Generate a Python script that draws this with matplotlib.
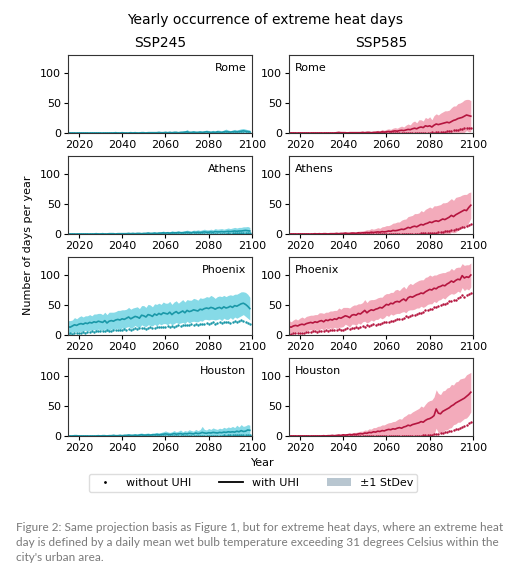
import matplotlib
matplotlib.use("Agg")
import matplotlib.pyplot as plt
import numpy as np
from matplotlib.lines import Line2D
from matplotlib.patches import Patch

years = list(range(2015, 2100))
cities = ["Rome", "Athens", "Phoenix", "Houston"]
scenarios = ["SSP245", "SSP585"]

z10 = [0] * 10
z20 = [0] * 20
z30 = [0] * 30

# ---- SSP245 ----
rome245_uhi = z20 + [
    0, 0, 0.5, 0, 0, 0.5, 0, 0, 0, 0.5,
    0, 0.5, 0, 0, 0.5, 0.5, 0, 0.5, 0.5, 0.5,
    0.5, 0.5, 1, 0.5, 0.5, 1, 0.5, 1, 0.5, 1,
    1, 0.5, 1, 1, 1.5, 2, 1, 1, 1.5, 1,
    1, 1.5, 1, 1.5, 2, 1.5, 1, 1.5, 1, 2,
    1.5, 1, 2, 2.5, 2, 1.5, 2, 2.5, 2, 2.5,
    3, 3.5, 3, 2.5, 2]
rome245_std = z20 + [
    0, 0.5, 0.5, 0, 0.5, 0.5, 0.5, 0, 0.5, 0.5,
    0.5, 0.5, 0.5, 0.5, 1, 1, 0.5, 1, 1, 1,
    1, 1.5, 1, 1.5, 1, 2, 1.5, 2, 1.5, 2,
    2, 1.5, 2, 2.5, 2, 4, 2, 2, 2.5, 2,
    2, 2.5, 2, 2.5, 3, 2.5, 2, 3, 2.5, 3,
    3, 2.5, 3, 4, 3, 2.5, 3, 3.5, 3, 3.5,
    4, 4, 3.5, 3, 3]
rome245_no = z30 + [0] * 40 + [
    0, 0, 0, 0, 0, 0, 0.5, 0, 0, 0.5,
    0.5, 0.5, 0.5, 0.5, 0.5]

athens245_uhi = z10 + [
    0, 0, 0, 0.5, 0, 0, 0.5, 0, 0, 0.5,
    0.5, 0.5, 0, 0.5, 0.5, 0.5, 0.5, 0.5, 1, 0.5,
    1, 0.5, 1, 1, 0.5, 1, 1, 1.5, 1, 1,
    1.5, 1, 1.5, 1.5, 2, 1.5, 2, 1.5, 2, 2,
    2, 2.5, 2, 2, 2.5, 3, 2.5, 2, 3, 2.5,
    3, 2.5, 3, 3.5, 3, 3, 3.5, 3, 4, 3.5,
    3.5, 4, 3.5, 4, 4.5, 4, 4.5, 5, 4.5, 5,
    5, 5.5, 6, 5.5, 5]
athens245_std = z10 + [
    0, 0.5, 0, 0.5, 0.5, 0, 0.5, 0.5, 0, 0.5,
    0.5, 0.5, 0.5, 1, 0.5, 1, 1, 1, 1, 1,
    1, 1, 1.5, 1, 1, 1.5, 1.5, 2, 1.5, 2,
    2, 1.5, 2, 2, 3, 2, 2.5, 2, 3.5, 2.5,
    2.5, 3, 2.5, 3, 3, 3.5, 3, 3, 3.5, 3.5,
    4, 3.5, 4, 4.5, 4, 4, 4.5, 4, 5, 4.5,
    5, 5, 4.5, 5, 5.5, 5, 5.5, 6, 5.5, 6,
    6, 6.5, 6, 7, 6]
athens245_no = z30 + [0] * 30 + [
    0, 0, 0, 0, 0.5, 0, 0, 0.5, 0, 0.5,
    0.5, 0.5, 0.5, 0.5, 1, 0.5, 1, 1, 1, 1,
    1, 1.5, 1, 1.5, 1.5]

phoenix245_uhi = [
    14, 13, 15, 17, 16, 18, 19, 18, 20, 19,
    21, 20, 22, 21, 23, 22, 21, 24, 20, 23,
    24, 23, 25, 26, 25, 27, 26, 28, 30, 27,
    29, 31, 30, 28, 33, 32, 30, 34, 33, 31,
    35, 33, 36, 34, 37, 36, 35, 38, 34, 37,
    39, 36, 38, 40, 37, 41, 39, 40, 42, 41,
    40, 43, 42, 44, 45, 44, 46, 45, 43, 45,
    46, 44, 47, 45, 46, 48, 46, 49, 48, 50,
    52, 53, 51, 48, 44]
phoenix245_std = [
    10, 11, 10, 12, 11, 12, 13, 12, 12, 13,
    13, 12, 13, 14, 13, 14, 13, 14, 14, 15,
    14, 15, 14, 15, 16, 15, 16, 15, 16, 16,
    16, 15, 17, 16, 16, 17, 16, 17, 17, 16,
    17, 18, 17, 17, 18, 17, 18, 18, 17, 18,
    18, 17, 18, 19, 18, 18, 19, 18, 19, 19,
    18, 19, 19, 18, 19, 19, 20, 19, 18, 19,
    19, 20, 19, 19, 20, 19, 20, 19, 20, 20,
    20, 19, 20, 20, 19]
phoenix245_no = [
    2, 3, 2, 3, 4, 3, 4, 5, 4, 5,
    5, 6, 5, 6, 7, 6, 7, 6, 8, 7,
    7, 8, 8, 9, 8, 9, 10, 9, 10, 9,
    10, 11, 10, 11, 12, 11, 10, 12, 13, 12,
    12, 13, 14, 13, 14, 14, 15, 13, 15, 14,
    15, 16, 15, 16, 17, 16, 17, 18, 16, 18,
    17, 18, 19, 18, 20, 19, 20, 21, 19, 20,
    21, 20, 21, 22, 21, 20, 22, 23, 22, 23,
    25, 24, 22, 20, 18]

houston245_uhi = [
    0, 0, 0, 0.5, 0.5, 0, 0, 0, 0, 0,
    0, 0, 0, 0, 0.5, 0, 0.5, 0.5, 0, 0.5,
    0.5, 1, 0.5, 0.5, 1, 0.5, 1, 1, 1.5, 1,
    1, 1.5, 1, 1.5, 2, 1.5, 1.5, 2, 1.5, 2,
    2, 2.5, 2, 2.5, 3, 3.5, 3, 2.5, 3, 4,
    3, 3.5, 4, 3, 4, 3.5, 4.5, 4, 3.5, 5,
    4, 4.5, 6, 5, 4.5, 5.5, 5, 6, 5.5, 5,
    6, 5.5, 6.5, 6, 7, 6.5, 7, 6.5, 8, 7,
    9, 7.5, 8, 10, 9.5]
houston245_std = [
    0, 0, 0, 1, 1.5, 0.5, 0, 0, 0, 0,
    0, 0, 0, 0.5, 1, 0.5, 1, 1, 0.5, 1,
    1.5, 2, 1.5, 1.5, 2, 1.5, 2, 2, 2.5, 2,
    2, 2.5, 2, 3, 3, 2.5, 3, 3, 2.5, 3,
    3, 3.5, 3, 3.5, 4, 5, 4, 3.5, 4, 5,
    4, 4.5, 6, 4, 5, 4.5, 6, 5, 4.5, 6,
    5, 6, 10, 6, 5.5, 7, 6, 7.5, 6.5, 6,
    7, 6.5, 8, 7, 8, 7.5, 9, 7.5, 10, 8,
    10, 8.5, 9, 9, 8.5]
houston245_no = z30 + [0] * 30 + [
    0, 0, 0.5, 0, 0, 0.5, 0, 0.5, 0.5, 0.5,
    0.5, 0.5, 1, 0.5, 1, 1, 1, 1, 1.5, 1,
    1.5, 1.5, 1.5, 2, 2]

# ---- SSP585 ----
rome585_uhi = z10 + [
    0, 0, 0, 0, 0, 0, 0, 0, 0, 0,
    0, 0, 0.5, 1, 0.5, 0.5, 0.5, 0, 0.5, 0.5,
    0.5, 0.5, 0.5, 0.5, 1, 0.5, 1, 1, 0.5, 1,
    1, 1.5, 1, 2, 1.5, 2, 2.5, 2, 3, 3.5,
    3, 4, 4.5, 4, 5, 6, 5.5, 7, 8, 7,
    9, 10, 9, 12, 11, 12, 10, 13, 15, 14,
    15, 16, 17, 18, 17, 19, 21, 22, 24, 25,
    26, 28, 30, 29, 28]
rome585_std = z10 + [
    0, 0, 0, 0, 0, 0, 0, 0, 0, 0,
    0.5, 0.5, 1, 1.5, 1, 1, 1, 0.5, 1, 1,
    1, 1, 1.5, 1, 2, 1.5, 2, 2, 1.5, 2,
    2.5, 3, 2.5, 4, 3, 4, 4.5, 4, 5, 5.5,
    5, 6, 7, 6, 8, 9, 8, 11, 12, 10,
    13, 12, 11, 14, 13, 15, 12, 16, 17, 16,
    18, 19, 20, 19, 21, 23, 24, 23, 25, 25,
    26, 27, 26, 27, 26]
rome585_no = z30 + [0] * 30 + [
    0, 0, 0, 0.5, 0.5, 0.5, 1, 0.5, 1, 1.5,
    2, 2, 2.5, 3, 3.5, 4, 4.5, 5, 5.5, 6,
    7, 8, 8.5, 9, 9]

athens585_uhi = z10 + [
    0, 0, 0.5, 0, 0.5, 0, 0.5, 0.5, 0, 0.5,
    0.5, 0.5, 1, 0.5, 1, 1, 1.5, 1, 1, 1.5,
    1.5, 1, 2, 1.5, 2, 2, 2.5, 2, 3, 2.5,
    3, 3.5, 3, 4, 3.5, 4, 5, 4.5, 6, 5.5,
    6, 7, 8, 7.5, 9, 11, 10, 12, 13, 12,
    14, 16, 15, 17, 18, 20, 19, 21, 22, 21,
    23, 25, 24, 26, 28, 31, 29, 32, 34, 36,
    38, 40, 39, 44, 48]
athens585_std = z10 + [
    0, 0, 0.5, 0, 0.5, 0, 0.5, 0.5, 0, 0.5,
    0.5, 0.5, 1, 1, 1.5, 1, 2, 1.5, 2, 2.5,
    2, 3, 2.5, 3.5, 3, 4, 4.5, 5, 6, 5.5,
    6, 7, 6.5, 8, 9, 10, 9, 11, 12, 13,
    14, 13, 15, 17, 16, 18, 20, 19, 21, 22,
    21, 23, 22, 24, 25, 25, 24, 26, 25, 27,
    26, 27, 28, 27, 28, 28, 27, 29, 28, 27,
    27, 26, 27, 25, 22]
athens585_no = z30 + [0] * 25 + [
    0, 0, 0.5, 0.5, 0.5,
    0.5, 1, 1, 1, 1.5, 1.5, 2, 2.5, 2.5, 3,
    3.5, 4, 4.5, 5, 5.5, 6, 7, 8, 9, 10,
    11, 12, 13, 15, 16]

phoenix585_uhi = [
    14, 13, 15, 16, 15, 17, 18, 17, 19, 20,
    21, 20, 22, 21, 23, 24, 22, 25, 24, 26,
    25, 27, 26, 29, 28, 30, 32, 31, 29, 33,
    34, 33, 36, 35, 38, 41, 37, 40, 42, 41,
    43, 44, 46, 45, 48, 51, 50, 53, 52, 55,
    56, 55, 58, 60, 57, 62, 64, 63, 65, 67,
    68, 70, 69, 72, 74, 76, 75, 78, 77, 80,
    81, 83, 82, 85, 87, 90, 88, 91, 93, 92,
    99, 95, 97, 96, 100]
phoenix585_std = [
    10, 9, 10, 11, 10, 11, 12, 11, 12, 12,
    12, 13, 12, 13, 14, 13, 14, 13, 14, 14,
    15, 14, 15, 16, 15, 16, 14, 15, 16, 15,
    16, 17, 16, 17, 16, 18, 17, 18, 17, 18,
    17, 18, 17, 18, 19, 18, 19, 18, 19, 20,
    20, 19, 20, 21, 20, 21, 22, 21, 22, 22,
    23, 22, 23, 24, 23, 24, 23, 22, 23, 22,
    22, 21, 22, 21, 20, 21, 20, 21, 20, 21,
    20, 21, 20, 21, 20]
phoenix585_no = [
    2, 2, 3, 3, 4, 3, 4, 4, 5, 5,
    5, 6, 6, 5, 7, 6, 7, 8, 7, 8,
    8, 9, 8, 10, 9, 9, 10, 11, 10, 12,
    12, 13, 12, 14, 15, 14, 16, 15, 17, 18,
    17, 19, 18, 20, 21, 22, 21, 23, 24, 25,
    26, 27, 26, 29, 31, 30, 32, 34, 33, 35,
    37, 36, 39, 41, 42, 44, 43, 46, 47, 49,
    50, 52, 51, 54, 56, 57, 59, 58, 61, 63,
    67, 64, 66, 69, 70]

houston585_uhi = z10 + [
    0, 0, 0, 0, 0, 0, 0.5, 0, 0.5, 0.5,
    1, 0.5, 1, 1.5, 1, 2, 1.5, 2, 2.5, 2,
    3, 2.5, 3.5, 4, 3.5, 5, 4.5, 6, 5.5, 7,
    6.5, 8, 7.5, 9, 8.5, 10, 11, 10.5, 12, 11.5,
    13, 14, 13, 15, 16, 18, 17, 19, 20, 21,
    22, 24, 23, 26, 28, 29, 31, 34, 45, 38,
    37, 41, 43, 45, 47, 50, 52, 55, 57, 59,
    61, 63, 66, 69, 73]
houston585_std = z10 + [
    0, 0, 0, 0, 0, 0, 0.5, 0, 0.5, 0.5,
    0.5, 0.5, 1, 1.5, 1, 1.5, 2, 2, 2.5, 2.5,
    3, 3.5, 3.5, 4, 4.5, 5, 5, 6, 6, 7,
    7.5, 8, 9, 9.5, 10, 10.5, 11, 12, 12, 13,
    14, 15, 15, 17, 18, 19, 20, 21, 22, 23,
    24, 26, 25, 27, 29, 30, 29, 31, 32, 33,
    32, 34, 33, 35, 34, 36, 33, 35, 34, 36,
    35, 34, 36, 35, 33]
houston585_no = z30 + [0] * 25 + [
    0, 0, 0, 0, 0.5,
    0.5, 0.5, 1, 1, 1.5, 2, 2.5, 3, 3.5, 4,
    5, 5.5, 6, 7, 8, 9, 10, 11, 12, 13,
    15, 17, 19, 21, 23]

uhi = {
    "SSP245": [rome245_uhi, athens245_uhi, phoenix245_uhi, houston245_uhi],
    "SSP585": [rome585_uhi, athens585_uhi, phoenix585_uhi, houston585_uhi],
}
std = {
    "SSP245": [rome245_std, athens245_std, phoenix245_std, houston245_std],
    "SSP585": [rome585_std, athens585_std, phoenix585_std, houston585_std],
}
no_uhi = {
    "SSP245": [rome245_no, athens245_no, phoenix245_no, houston245_no],
    "SSP585": [rome585_no, athens585_no, phoenix585_no, houston585_no],
}

line_col = {"SSP245": "#1a98a8", "SSP585": "#b5153f"}
fill_col = {"SSP245": "#86dae7", "SSP585": "#f3abbb"}

W, H = 513, 573
fig = plt.figure(figsize=(W / 100, H / 100), dpi=100)

col_x = [68, 289]
row_top = [55, 156, 257, 358]
aw, ah = 184, 78

for j, sc in enumerate(scenarios):
    for i, city in enumerate(cities):
        ax = fig.add_axes([col_x[j] / W, 1 - (row_top[i] + ah) / H, aw / W, ah / H])
        m = np.array(uhi[sc][i], dtype=float)
        s = np.array(std[sc][i], dtype=float)
        ax.fill_between(years, m - s, m + s, color=fill_col[sc], lw=0)
        ax.plot(years, m, color=line_col[sc], lw=1.2)
        ax.plot(years, no_uhi[sc][i], ls="", marker=".", ms=1.5, color=line_col[sc])
        ax.set_xlim(2015, 2100)
        ax.set_ylim(0, 130)
        ax.set_xticks([2020, 2040, 2060, 2080, 2100])
        ax.set_yticks([0, 50, 100])
        ax.tick_params(labelsize=8, length=3, pad=2)
        for sp in ax.spines.values():
            sp.set_color("#333333")
            sp.set_linewidth(0.8)
        if j == 0:
            ax.text(0.97, 0.9, city, transform=ax.transAxes, ha="right", va="top", fontsize=8)
        else:
            ax.text(0.03, 0.9, city, transform=ax.transAxes, ha="left", va="top", fontsize=8)

fig.text(265 / W, 1 - 20 / H, "Yearly occurrence of extreme heat days", ha="center", va="center", fontsize=10)
fig.text(160 / W, 1 - 43 / H, "SSP245", ha="center", va="center", fontsize=10)
fig.text(381 / W, 1 - 43 / H, "SSP585", ha="center", va="center", fontsize=10)
fig.text(28 / W, 1 - 245 / H, "Number of days per year", rotation=90, ha="center", va="center", fontsize=8)
fig.text(263 / W, 1 - 463 / H, "Year", ha="center", va="center", fontsize=8)

handles = [
    Line2D([], [], ls="", marker=".", ms=2, color="black"),
    Line2D([], [], color="black", lw=1.3),
    Patch(facecolor="#b8c6d0", edgecolor="none"),
]
fig.legend(handles, ["without UHI", "with UHI", "±1 StDev"], ncol=3, fontsize=8,
           loc="center", bbox_to_anchor=(253 / W, 1 - 483 / H), columnspacing=2.5,
           handlelength=2.2, borderpad=0.35, framealpha=1, edgecolor="#dddddd")

caption = ("Figure 2: Same projection basis as Figure 1, but for extreme heat days, where an extreme heat\n"
           "day is defined by a daily mean wet bulb temperature exceeding 31 degrees Celsius within the\n"
           "city's urban area.")
fig.text(16 / W, 1 - 522 / H, caption, ha="left", va="top", fontsize=8.5, color="#7a7a7a",
         family="Lato", linespacing=1.45)

fig.savefig("out.png", dpi=100)
